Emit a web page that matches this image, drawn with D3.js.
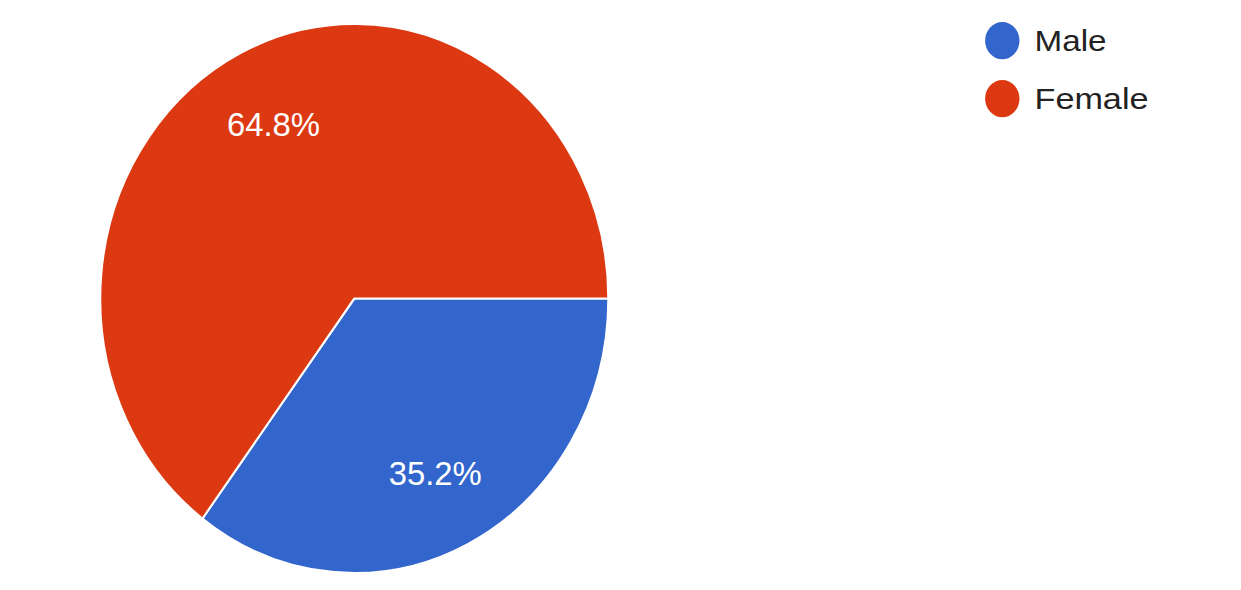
<!DOCTYPE html>
<html>
<head>
<meta charset="utf-8">
<script src="https://cdn.jsdelivr.net/npm/d3@7"></script>
<style>
  html, body { margin: 0; padding: 0; background: #fff; }
  svg { display: block; }
</style>
</head>
<body>
<script>
const categories = ["Male", "Female"];
const values = [35.2, 64.8];
const labels = ["35.2%", "64.8%"];
const colors = ["#3366cc", "#dc3912"];

const W = 1241, H = 590;
const svg = d3.select("body").append("svg").attr("width", W).attr("height", H);

const cx = 354.3, cy = 298.5, R = 254, sy = 274.5 / 254;

const pie = d3.pie().value(d => d).sort(null)
  .startAngle(Math.PI / 2).endAngle(Math.PI / 2 + 2 * Math.PI);
const arcs = pie(values);
const arc = d3.arc().innerRadius(0).outerRadius(R);
const labelArc = d3.arc().innerRadius(R * 0.71).outerRadius(R * 0.71);
const color = d3.scaleOrdinal().domain(categories).range(colors);

const g = svg.append("g").attr("transform", `translate(${cx},${cy}) scale(1,${sy})`);
g.selectAll("path").data(arcs).join("path")
  .attr("d", arc)
  .attr("fill", (d, i) => color(categories[i]))
  .attr("stroke", "#fff")
  .attr("stroke-width", 2)
  .attr("stroke-linejoin", "round");

const fs = 33;
svg.selectAll("text.pct").data(arcs).join("text")
  .attr("class", "pct")
  .attr("x", d => cx + labelArc.centroid(d)[0])
  .attr("y", d => cy + labelArc.centroid(d)[1] * sy + fs * 0.358)
  .attr("text-anchor", "middle")
  .attr("font-family", "'Liberation Sans', Arial, sans-serif")
  .attr("font-size", fs)
  .attr("fill", "#fff")
  .attr("textLength", 93)
  .attr("lengthAdjust", "spacingAndGlyphs")
  .text((d, i) => labels[i]);

// Legend
const legendY = d3.scalePoint().domain(categories).range([40.7, 98.7]);
const leg = svg.append("g");
leg.selectAll("ellipse").data(categories).join("ellipse")
  .attr("cx", 1002.3)
  .attr("cy", d => legendY(d))
  .attr("rx", 17.2)
  .attr("ry", 18.6)
  .attr("fill", d => color(d));
const legWidths = { Male: 72, Female: 114 };
leg.selectAll("text").data(categories).join("text")
  .attr("x", 1034.5)
  .attr("y", d => legendY(d) + 10.2)
  .attr("font-family", "'Liberation Sans', Arial, sans-serif")
  .attr("font-size", 30)
  .attr("fill", "#222222")
  .attr("textLength", d => legWidths[d])
  .attr("lengthAdjust", "spacingAndGlyphs")
  .text(d => d);
</script>
</body>
</html>
